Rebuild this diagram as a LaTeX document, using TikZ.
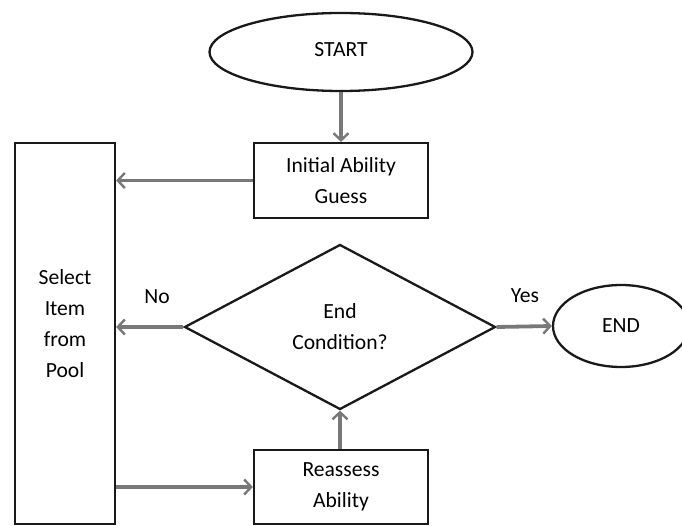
\documentclass[tikz,border=0pt]{standalone}
\usepackage{fontspec}
\setmainfont{Carlito}
\usetikzlibrary{shapes.geometric,arrows.meta}
\definecolor{outl}{RGB}{25,25,25}
\definecolor{arr}{RGB}{120,120,120}
\begin{document}
\begin{tikzpicture}[x=1pt,y=-1pt,
  every node/.style={font=\fontsize{21.6}{31}\selectfont, text=black},
  shapebox/.style={draw=outl, line width=2.3pt, inner sep=0pt, align=center},
  flowarrow/.style={draw=arr, line width=3.8pt, -{Straight Barb[length=7pt,width=15pt,line width=2.4pt]}},
  lbl/.style={inner sep=0pt}
]
\useasboundingbox (0,0) rectangle (682,526);
\node[shapebox, ellipse, minimum width=263pt, minimum height=78pt] (start) at (341,52) {\raisebox{6pt}{START}};
\node[shapebox, rectangle, minimum width=174pt, minimum height=75pt] (init) at (341,180.5) {Initial Ability\\Guess};
\node[shapebox, rectangle, minimum width=100pt, minimum height=381pt] (select) at (65,333.5) {};
\node[lbl, align=center] (seltxt) at (65,324) {Select\\Item\\from\\Pool};
\node[shapebox, diamond, aspect=1.885, minimum width=311pt, minimum height=165pt] (dec) at (340,327) {End\\Condition?};
\node[shapebox, ellipse, minimum width=136pt, minimum height=82pt] (end) at (621,326) {END};
\node[shapebox, rectangle, minimum width=174pt, minimum height=74pt] (reas) at (341,487) {Reassess\\Ability};
\node[lbl] (no) at (157,297) {No};
\node[lbl] (yes) at (525,296) {Yes};
\draw[flowarrow] (start.south) -- (init.north);
\draw[flowarrow] (init.west) -- (init.west -| select.east);
\draw[flowarrow] (dec.west) -- (dec.west -| select.east);
\draw[flowarrow] (dec.east) -- (end.west);
\draw[flowarrow] (select.east |- reas.west) -- (reas.west);
\draw[flowarrow] (reas.north -| dec.south) -- (dec.south);
\end{tikzpicture}
\end{document}
